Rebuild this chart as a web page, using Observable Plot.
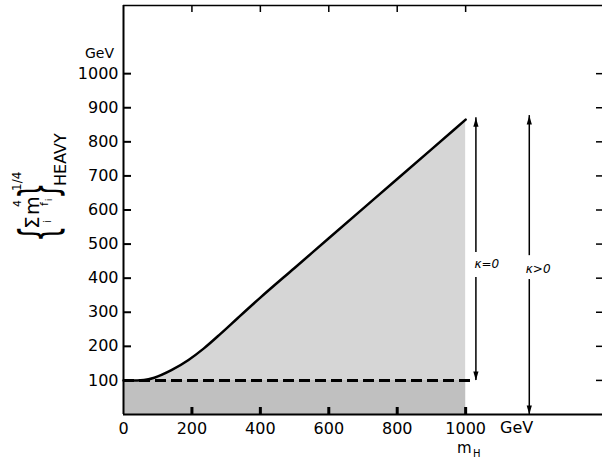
<!DOCTYPE html>
<html><head><meta charset="utf-8">
<script src="https://cdn.jsdelivr.net/npm/d3@7"></script>
<script src="https://cdn.jsdelivr.net/npm/@observablehq/plot@0.6"></script>
<style>body{margin:0;background:#fff} svg{display:block}</style>
</head><body><div id="chart"></div>
<script>
// Higgs mass m_H (GeV) and upper bound on heavy-fermion mass combination (GeV)
const mH    = [0, 40, 60, 90, 140, 190, 235, 285, 335, 400, 500, 600, 700, 800, 900, 1000];
const bound = [100, 100, 101, 108, 130, 160, 194, 238, 284, 343, 430, 517, 604, 691, 778, 865];
const floorValue = 100;      // dashed line level
const dashEnd = 1015;        // dashed line reaches a bit past 1000 GeV
const yTicks = [100, 200, 300, 400, 500, 600, 700, 800, 900, 1000];
const xTicks = [0, 200, 400, 600, 800, 1000];
// vertical double arrows (kappa = 0 and kappa > 0)
const arrowX      = [1030, 1186];
const arrowLow    = [100, 0];
const arrowHigh   = [871, 877];
const gapLow      = [402, 396];
const gapHigh     = [475, 466];
const arrowLabels = ["κ=0", "κ>0"];
const labelX      = [1062, 1212];
const labelY      = [442, 425];

const data = mH.map((m, i) => ({m, b: bound[i]}));
const arrows = arrowX.map((x, i) => ({x, lo: arrowLow[i], hi: arrowHigh[i], gl: gapLow[i], gh: gapHigh[i], label: arrowLabels[i], lx: labelX[i], ly: labelY[i]}));

const W = 602, H = 461, mL = 123, mR = 0, mT = 5, mB = 47;
const pw = W - mL - mR, ph = H - mT - mB;

const triangle = {draw(ctx, l) { ctx.moveTo(0, -l); ctx.lineTo(-2.6, 0); ctx.lineTo(2.6, 0); ctx.closePath(); }};

const plot = Plot.plot({
  width: W, height: H,
  marginLeft: mL, marginRight: mR, marginTop: mT, marginBottom: mB,
  x: {domain: [0, 1400]},
  y: {domain: [0, 1200]},
  style: {fontFamily: "DejaVu Sans", fontSize: "16px", color: "black", background: "white"},
  marks: [
    Plot.areaY(data, {x: "m", y1: 0, y2: "b", fill: "#d6d6d6", curve: "monotone-x"}),
    Plot.areaY(data, {x: "m", y1: 0, y2: floorValue, fill: "#c0c0c0"}),
    Plot.ruleY([floorValue], {x1: 0, x2: dashEnd, stroke: "black", strokeWidth: 3, strokeDasharray: "11,5"}),
    Plot.line(data, {x: "m", y: "b", stroke: "black", strokeWidth: 2.5, curve: "monotone-x"}),
    // frame (left, bottom, top)
    Plot.ruleX([0], {stroke: "black", strokeWidth: 2}),
    Plot.ruleY([0], {stroke: "black", strokeWidth: 2}),
    Plot.ruleY([1200], {stroke: "black", strokeWidth: 1.5}),
    // inward ticks
    Plot.tickY(yTicks, {y: d => d, insetRight: pw - 8, stroke: "black", strokeWidth: 2}),
    Plot.tickY(yTicks, {y: d => d, insetLeft: pw - 6, stroke: "black", strokeWidth: 1.5}),
    Plot.tickX(xTicks.slice(1), {x: d => d, insetTop: ph - 7, stroke: "black", strokeWidth: 3}),
    Plot.tickX(xTicks.slice(1), {x: d => d, insetBottom: ph - 7, stroke: "black", strokeWidth: 1.5}),
    Plot.axisY(yTicks, {tickSize: 0, tickPadding: 5, fontSize: 16, label: null, tickFormat: d => String(d)}),
    Plot.axisX(xTicks, {tickSize: 0, tickPadding: 8, fontSize: 16, label: null, tickFormat: d => String(d)}),
    // arrows
    Plot.ruleX(arrows, {x: "x", y1: "gh", y2: "hi", stroke: "black", strokeWidth: 1.5}),
    Plot.ruleX(arrows, {x: "x", y1: "lo", y2: "gl", stroke: "black", strokeWidth: 1.5}),
    Plot.vector(arrows, {x: "x", y: "hi", length: 9, anchor: "end", shape: triangle, fill: "black", stroke: "none"}),
    Plot.vector(arrows, {x: "x", y: "lo", length: 9, anchor: "end", rotate: 180, shape: triangle, fill: "black", stroke: "none"}),
    Plot.text(arrows, {x: "lx", y: "ly", text: "label", fontSize: 12, fontStyle: "italic"})
  ]
});

const svg = d3.select(plot);
function lab(str, x, y, size) { return svg.append("text").attr("x", x).attr("y", y).attr("font-size", size).attr("text-anchor", "start").attr("fill", "black").text(str); }
lab("GeV", 85, 58, 14);
lab("GeV", 500, 433, 16);
lab("m", 457, 453, 15);
lab("H", 473, 457, 10);

const g = svg.append("g").attr("transform", "rotate(-90)").attr("font-family", "DejaVu Sans").attr("fill", "black").attr("text-anchor", "start");
function t(str, sy, sx, size) { return g.append("text").attr("x", -sy).attr("y", sx).attr("font-size", size).text(str); }
g.append("text").attr("transform", "translate(-242,56) scale(0.5,1)").attr("font-size", 52).text("{");
t("Σ", 229, 39, 20);
t("i", 223, 51, 10);
t("m", 215, 39, 19);
t("4", 207, 21, 11);
t("f", 206, 48, 11);
t("i", 201, 52, 8);
g.append("text").attr("transform", "translate(-199,56) scale(0.5,1)").attr("font-size", 52).text("}");
t("1/4", 191, 21, 12);
t("HEAVY", 186, 66, 16);

document.getElementById("chart").appendChild(plot);
</script>
</body></html>
